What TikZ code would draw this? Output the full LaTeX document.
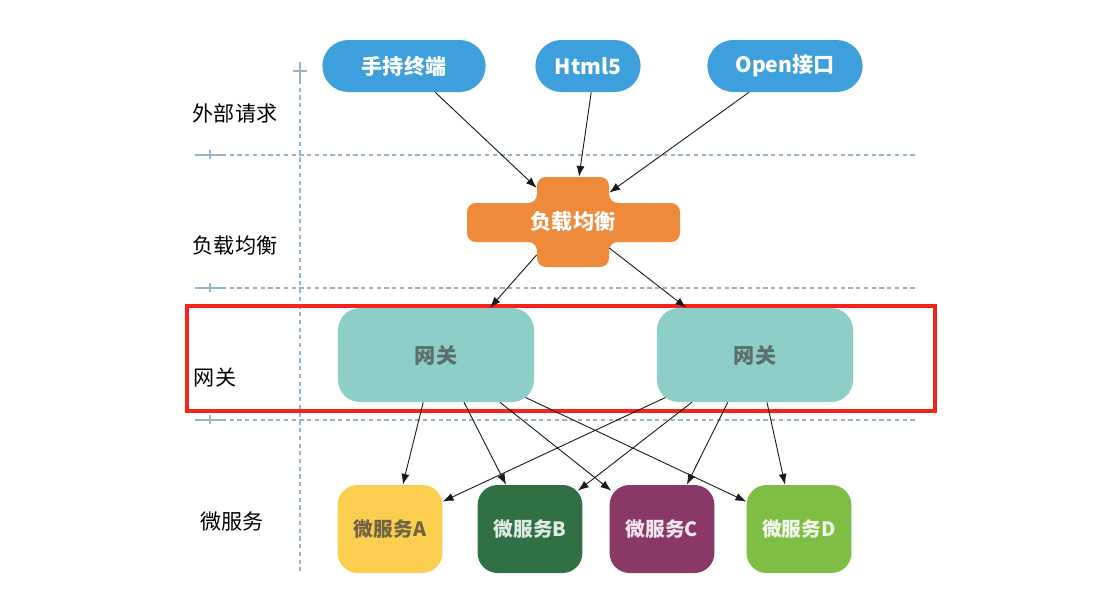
\documentclass[tikz,border=0pt]{standalone}
\usepackage{fontspec}
\setmainfont{Noto Sans CJK SC}
\usetikzlibrary{arrows.meta}
\definecolor{reqblue}{HTML}{3D9FDC}
\definecolor{lborange}{HTML}{EE8A3A}
\definecolor{gwteal}{HTML}{8DCFC8}
\definecolor{gwtext}{HTML}{5B6F6C}
\definecolor{lanegray}{HTML}{97B3C9}
\definecolor{redframe}{HTML}{F5231B}
\definecolor{svcyellow}{HTML}{FCCE4F}
\definecolor{svcgreen}{HTML}{2F7044}
\definecolor{svcpurple}{HTML}{8A3866}
\definecolor{svclime}{HTML}{7EBE45}
\tikzset{
  req/.style={rounded corners=0.65cm,fill=reqblue,text=white,minimum height=1.3cm,
    font=\bfseries\fontsize{15}{18}\selectfont},
  gate/.style={rounded corners=0.55cm,fill=gwteal,text=gwtext,minimum width=4.9cm,
    minimum height=2.35cm,font=\bfseries\fontsize{15}{18}\selectfont},
  svc/.style={rounded corners=0.5cm,minimum width=2.62cm,minimum height=2.2cm,
    font=\bfseries\fontsize{14}{17}\selectfont},
  lbtext/.style={text=white,font=\bfseries\fontsize{15}{18}\selectfont},
  row/.style={font=\fontsize{15}{18}\selectfont,text=black},
  arr/.style={-{Latex[length=2.7mm,width=2mm]},line width=0.65pt,black!90},
  lanes/.style={draw=lanegray,line width=0.8pt,dash pattern=on 3pt off 2.5pt},
  tick/.style={draw=lanegray,line width=0.9pt}
}

\begin{document}
\begin{tikzpicture}[x=0.025cm,y=-0.025cm]
  \useasboundingbox (0,0) rectangle (1109,595);

  \draw[lanes] (300,80) -- (300,572);
  \foreach \y in {155,288,420}
    \draw[lanes] (222,\y) -- (918,\y);
  \draw[tick] (293,71) -- (307,71) (300,62) -- (300,80);
  \foreach \y in {155,288,420}
    \draw[tick] (195,\y) -- (222,\y) (210,\y-5) -- (210,\y+4);

  \node[row] (row_req) at (235,113) {外部请求};
  \node[row] (row_lb) at (235,245) {负载均衡};
  \node[row] (row_gw) at (215,378) {网关};
  \node[row] (row_svc) at (232,521) {微服务};

  \node[req,minimum width=4.08cm] (term) at (404,66) {手持终端};
  \node[req,minimum width=2.63cm] (html) at (588,66) {Html5};
  \node[req,minimum width=3.88cm] (open) at (785,66) {Open接口};

  \fill[lborange,rounded corners=0.22cm] (537,177) -- (609,177) -- (609,203)
    -- (680,203) -- (680,242) -- (609,242) -- (609,267) -- (537,267)
    -- (537,242) -- (467,242) -- (467,203) -- (537,203) -- cycle;
  \node[minimum width=1.8cm,minimum height=2.25cm,
    label={[lbtext]center:负载均衡}] (lb) at (573,222) {};

  \node[gate] (gw1) at (436,355) {网关};
  \node[gate] (gw2) at (755,355) {网关};
  \draw[redframe,line width=3pt] (187,306) rectangle (935,411);

  \node[svc,fill=svcyellow,text=black!60!svcyellow!60!gray] (svcA) at (390,529) {微服务A};
  \node[svc,fill=svcgreen,text=white!85!svcgreen] (svcB) at (530,529) {微服务B};
  \node[svc,fill=svcpurple,text=white!88!svcpurple] (svcC) at (662,529) {微服务C};
  \node[svc,fill=svclime,text=white!90!svclime] (svcD) at (799,529) {微服务D};

  \draw[arr] ([xshift=0.78cm]term.south) -- ([yshift=-0.28cm]lb.north west);
  \draw[arr] ([xshift=0.08cm]html.south) -- ([xshift=0.15cm]lb.north);
  \draw[arr] ([xshift=-0.9cm]open.south) -- ([yshift=-0.4cm]lb.north east);
  \draw[arr] ([yshift=-0.82cm]lb.west) -- ([xshift=1.35cm]gw1.north);
  \draw[arr] ([yshift=-0.65cm]lb.east) -- ([xshift=-1.72cm]gw2.north);

  \draw[arr] ([xshift=-0.32cm]gw1.south) -- ([xshift=0.32cm]svcA.north);
  \draw[arr] ([xshift=0.7cm]gw1.south) -- ([xshift=-0.6cm]svcB.north);
  \draw[arr] ([xshift=1.6cm]gw1.south) -- ([xshift=0.05cm,yshift=-0.15cm]svcC.north west);
  \draw[arr] ([xshift=-0.22cm,yshift=0.12cm]gw1.south east) -- ([yshift=-0.42cm]svcD.north west);
  \draw[arr] ([xshift=0.22cm,yshift=0.12cm]gw2.south west) -- ([yshift=-0.42cm]svcA.north east);
  \draw[arr] ([xshift=-1.58cm]gw2.south) -- ([xshift=-0.12cm,yshift=-0.15cm]svcB.north east);
  \draw[arr] ([xshift=-0.68cm]gw2.south) -- ([xshift=0.62cm]svcC.north);
  \draw[arr] ([xshift=0.3cm]gw2.south) -- ([xshift=-0.35cm]svcD.north);
\end{tikzpicture}
\end{document}
